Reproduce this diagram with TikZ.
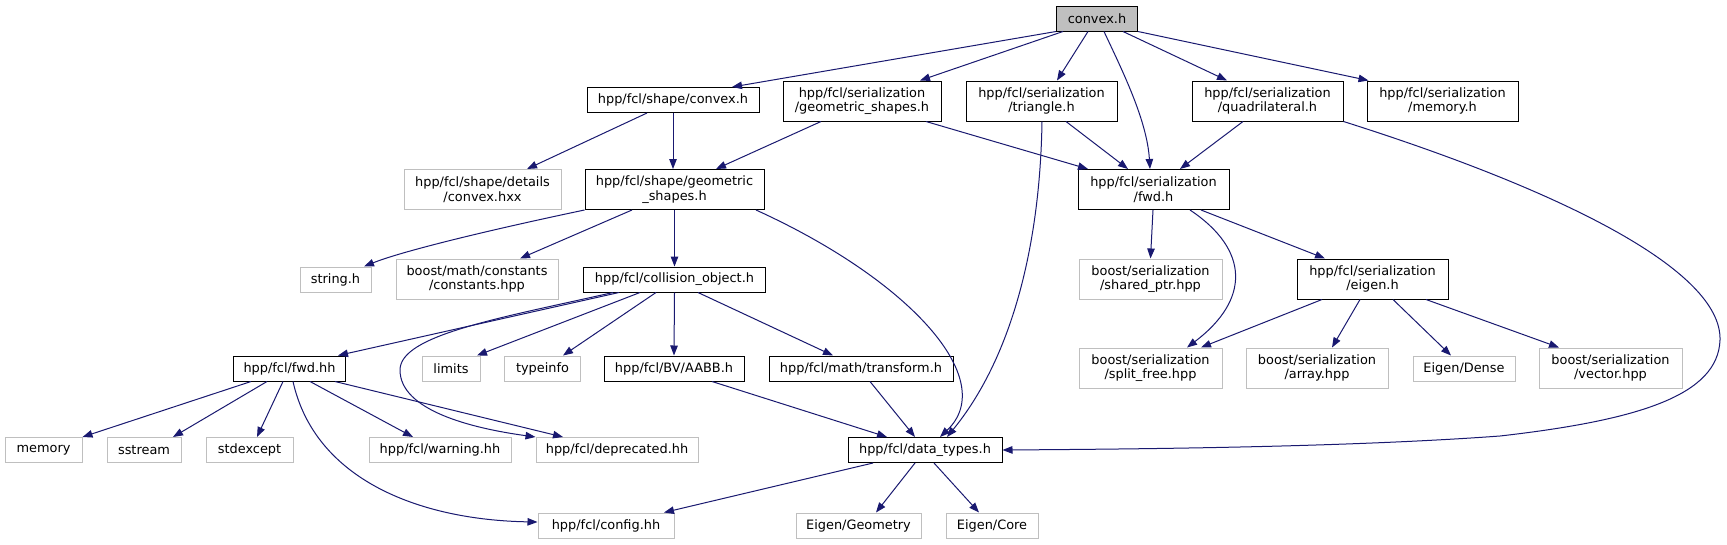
\documentclass[tikz,border=0pt]{standalone}
\usepackage{fontspec}
\setmainfont{DejaVu Sans}
\usetikzlibrary{arrows.meta}
\definecolor{edgeblue}{HTML}{191970}
\definecolor{extgray}{HTML}{BFBFBF}
\definecolor{rootfill}{HTML}{BFBFBF}
\tikzset{
  nd/.style={draw=black, line width=1pt, inner sep=0pt, align=center, minimum height=25pt,
             font=\fontsize{12.9}{14.4}\selectfont, text=black},
  ext/.style={nd, draw=extgray},
  tall/.style={minimum height=40pt},
  wd/.style={minimum width=#1},
  link/.style={draw=edgeblue, line width=1pt, -{Triangle[length=10pt,width=7.5pt]}},
}
\begin{document}
\begin{tikzpicture}[x=1pt,y=-1pt]
\useasboundingbox[fill=white] (0,0) rectangle (1727,544);
% row 1
\node[nd, fill=rootfill, wd=81pt] (convex) at (1097,18.5) {convex.h};
% row 2
\node[nd, wd=172pt] (sconvex) at (673,100) {hpp/fcl/shape/convex.h};
\node[nd, tall, wd=158pt] (sgeom) at (862,101) {hpp/fcl/serialization\\/geometric\_shapes.h};
\node[nd, tall, wd=151pt] (tri) at (1041.5,101) {hpp/fcl/serialization\\/triangle.h};
\node[nd, tall, wd=151pt] (quad) at (1267.5,101) {hpp/fcl/serialization\\/quadrilateral.h};
\node[nd, tall, wd=151pt] (smem) at (1442.5,101) {hpp/fcl/serialization\\/memory.h};
% row 3
\node[ext, tall, wd=157pt] (hxx) at (482.5,189.5) {hpp/fcl/shape/details\\/convex.hxx};
\node[nd, tall, wd=179pt] (geom) at (674.5,189.5) {hpp/fcl/shape/geometric\\\_shapes.h};
\node[nd, tall, wd=151pt] (fwdh) at (1153.5,189.5) {hpp/fcl/serialization\\/fwd.h};
% row 4
\node[ext, wd=71pt] (str) at (335.5,279.5) {string.h};
\node[ext, tall, wd=162pt] (const) at (477,279) {boost/math/constants\\/constants.hpp};
\node[nd, wd=182pt] (coll) at (674.5,279.5) {hpp/fcl/collision\_object.h};
\node[ext, tall, wd=143pt] (sptr) at (1150.5,279) {boost/serialization\\/shared\_ptr.hpp};
\node[nd, tall, wd=151pt] (eigen) at (1372.5,279) {hpp/fcl/serialization\\/eigen.h};
% row 5
\node[nd, wd=112pt] (fwdhh) at (289.5,368.5) {hpp/fcl/fwd.hh};
\node[ext, wd=58pt] (limits) at (451,368.5) {limits};
\node[ext, wd=76pt] (typeinfo) at (542.5,368.5) {typeinfo};
\node[nd, wd=140pt] (aabb) at (674,368.5) {hpp/fcl/BV/AABB.h};
\node[nd, wd=184pt] (transform) at (861,368.5) {hpp/fcl/math/transform.h};
\node[ext, tall, wd=143pt] (split) at (1150.5,368) {boost/serialization\\/split\_free.hpp};
\node[ext, tall, wd=142pt] (array) at (1317,368) {boost/serialization\\/array.hpp};
\node[ext, wd=102pt] (dense) at (1464,368.5) {Eigen/Dense};
\node[ext, tall, wd=143pt] (vector) at (1610.5,368) {boost/serialization\\/vector.hpp};
% row 6
\node[ext, wd=77pt] (memory) at (43.5,450) {memory};
\node[ext, wd=74pt] (sstream) at (144,450) {sstream};
\node[ext, wd=87pt] (stdexcept) at (249.5,450) {stdexcept};
\node[ext, wd=142pt] (warning) at (440,450) {hpp/fcl/warning.hh};
\node[ext, wd=162pt] (depr) at (617,450) {hpp/fcl/deprecated.hh};
\node[nd, wd=154pt] (dtypes) at (925,450) {hpp/fcl/data\_types.h};
% row 7
\node[ext, wd=136pt] (config) at (606,525.5) {hpp/fcl/config.hh};
\node[ext, wd=125pt] (egeo) at (858.5,525.5) {Eigen/Geometry};
\node[ext, wd=92pt] (ecore) at (992,525.5) {Eigen/Core};

% edges from convex.h
\draw[link] (convex.south west) -- ([xshift=59pt]sconvex.north);
\draw[link] ([xshift=-34pt]convex.south) -- ([xshift=58pt]sgeom.north);
\draw[link] ([xshift=-9pt]convex.south) -- ([xshift=15.5pt]tri.north);
\draw[link] ([xshift=7pt]convex.south) .. controls (1122,70) and (1147,120) .. ([xshift=-3.5pt]fwdh.north);
\draw[link] ([xshift=26pt]convex.south) -- ([xshift=-40.5pt]quad.north);
\draw[link] (convex.south east) -- ([xshift=2pt]smem.north west);
% shape/convex.h
\draw[link] ([xshift=-26pt]sconvex.south) -- ([xshift=44.5pt]hxx.north);
\draw[link] (sconvex.south) -- ([xshift=-1.5pt]geom.north);
% serialization/geometric_shapes.h
\draw[link] ([xshift=-41pt]sgeom.south) -- ([xshift=41.5pt]geom.north);
\draw[link] ([xshift=64pt]sgeom.south) -- ([xshift=-65.5pt]fwdh.north);
% triangle.h
\draw[link] ([xshift=24.5pt]tri.south) -- ([xshift=-25.5pt]fwdh.north);
\draw[link] ([xshift=0.5pt]tri.south) .. controls (1040,250) and (1010,360) .. ([xshift=22pt]dtypes.north);
% quadrilateral.h
\draw[link] (quad.south east) .. controls (1560,190) and (1722,270) .. (1720,340)
   .. controls (1718,395) and (1640,420) .. (1500,436)
   .. controls (1350,447) and (1150,449) .. (dtypes.east);
\draw[link] ([xshift=-24.5pt]quad.south) -- ([xshift=26.5pt]fwdh.north);
% serialization/fwd.h
\draw[link] ([xshift=-0.5pt]fwdh.south) -- (sptr.north);
\draw[link] ([xshift=36.5pt]fwdh.south) .. controls (1250,250) and (1250,300) .. ([xshift=36.5pt]split.north);
\draw[link] ([xshift=47.5pt]fwdh.south) -- ([xshift=-47.5pt]eigen.north);
% serialization/eigen.h
\draw[link] ([xshift=-50.5pt]eigen.south) -- ([xshift=50.5pt]split.north);
\draw[link] ([xshift=-12.5pt]eigen.south) -- ([xshift=15pt]array.north);
\draw[link] ([xshift=20.5pt]eigen.south) -- ([xshift=-13pt]dense.north);
\draw[link] ([xshift=53.5pt]eigen.south) -- ([xshift=-51.5pt]vector.north);
% shape/geometric_shapes.h
\draw[link] (geom.south west) .. controls (480,232) and (400,252) .. ([xshift=28.5pt]str.north);
\draw[link] ([xshift=-42.5pt]geom.south) -- ([xshift=43pt]const.north);
\draw[link] (geom.south) -- (coll.north);
\draw[link] ([xshift=81.5pt]geom.south) .. controls (910,280) and (1000,380) .. ([xshift=15pt]dtypes.north);
% collision_object.h
\draw[link] ([xshift=-55.5pt]coll.south) -- ([xshift=48.5pt]fwdhh.north);
\draw[link] ([xshift=-61.5pt]coll.south) .. controls (500,318) and (400,335) .. (400,370)
   .. controls (400,410) and (470,428) .. (depr.north west);
\draw[link] ([xshift=-34.5pt]coll.south) -- ([xshift=26pt]limits.north);
\draw[link] ([xshift=-18.5pt]coll.south) -- ([xshift=20.5pt]typeinfo.north);
\draw[link] (coll.south) -- (aabb.north);
\draw[link] ([xshift=23.5pt]coll.south) -- ([xshift=-28pt]transform.north);
% fwd.hh
\draw[link] ([xshift=-38.5pt]fwdhh.south) -- (memory.north east);
\draw[link] ([xshift=-22.5pt]fwdhh.south) -- ([xshift=29pt]sstream.north);
\draw[link] ([xshift=-6.5pt]fwdhh.south) -- ([xshift=7.5pt]stdexcept.north);
\draw[link] ([xshift=3.5pt]fwdhh.south) .. controls (315,480) and (420,520) .. ([yshift=3.5pt]config.west);
\draw[link] ([xshift=20.5pt]fwdhh.south) -- ([xshift=-27pt]warning.north);
\draw[link] ([xshift=45.5pt]fwdhh.south) -- ([xshift=-54pt]depr.north);
% AABB, transform
\draw[link] ([xshift=38pt]aabb.south) -- ([xshift=-38pt]dtypes.north);
\draw[link] ([xshift=9pt]transform.south) -- ([xshift=-10pt]dtypes.north);
% data_types.h
\draw[link] ([xshift=-52pt]dtypes.south) -- ([xshift=58pt]config.north);
\draw[link] ([xshift=-10pt]dtypes.south) -- ([xshift=17.5pt]egeo.north);
\draw[link] ([xshift=9pt]dtypes.south) -- ([xshift=-13pt]ecore.north);
\end{tikzpicture}
\end{document}
